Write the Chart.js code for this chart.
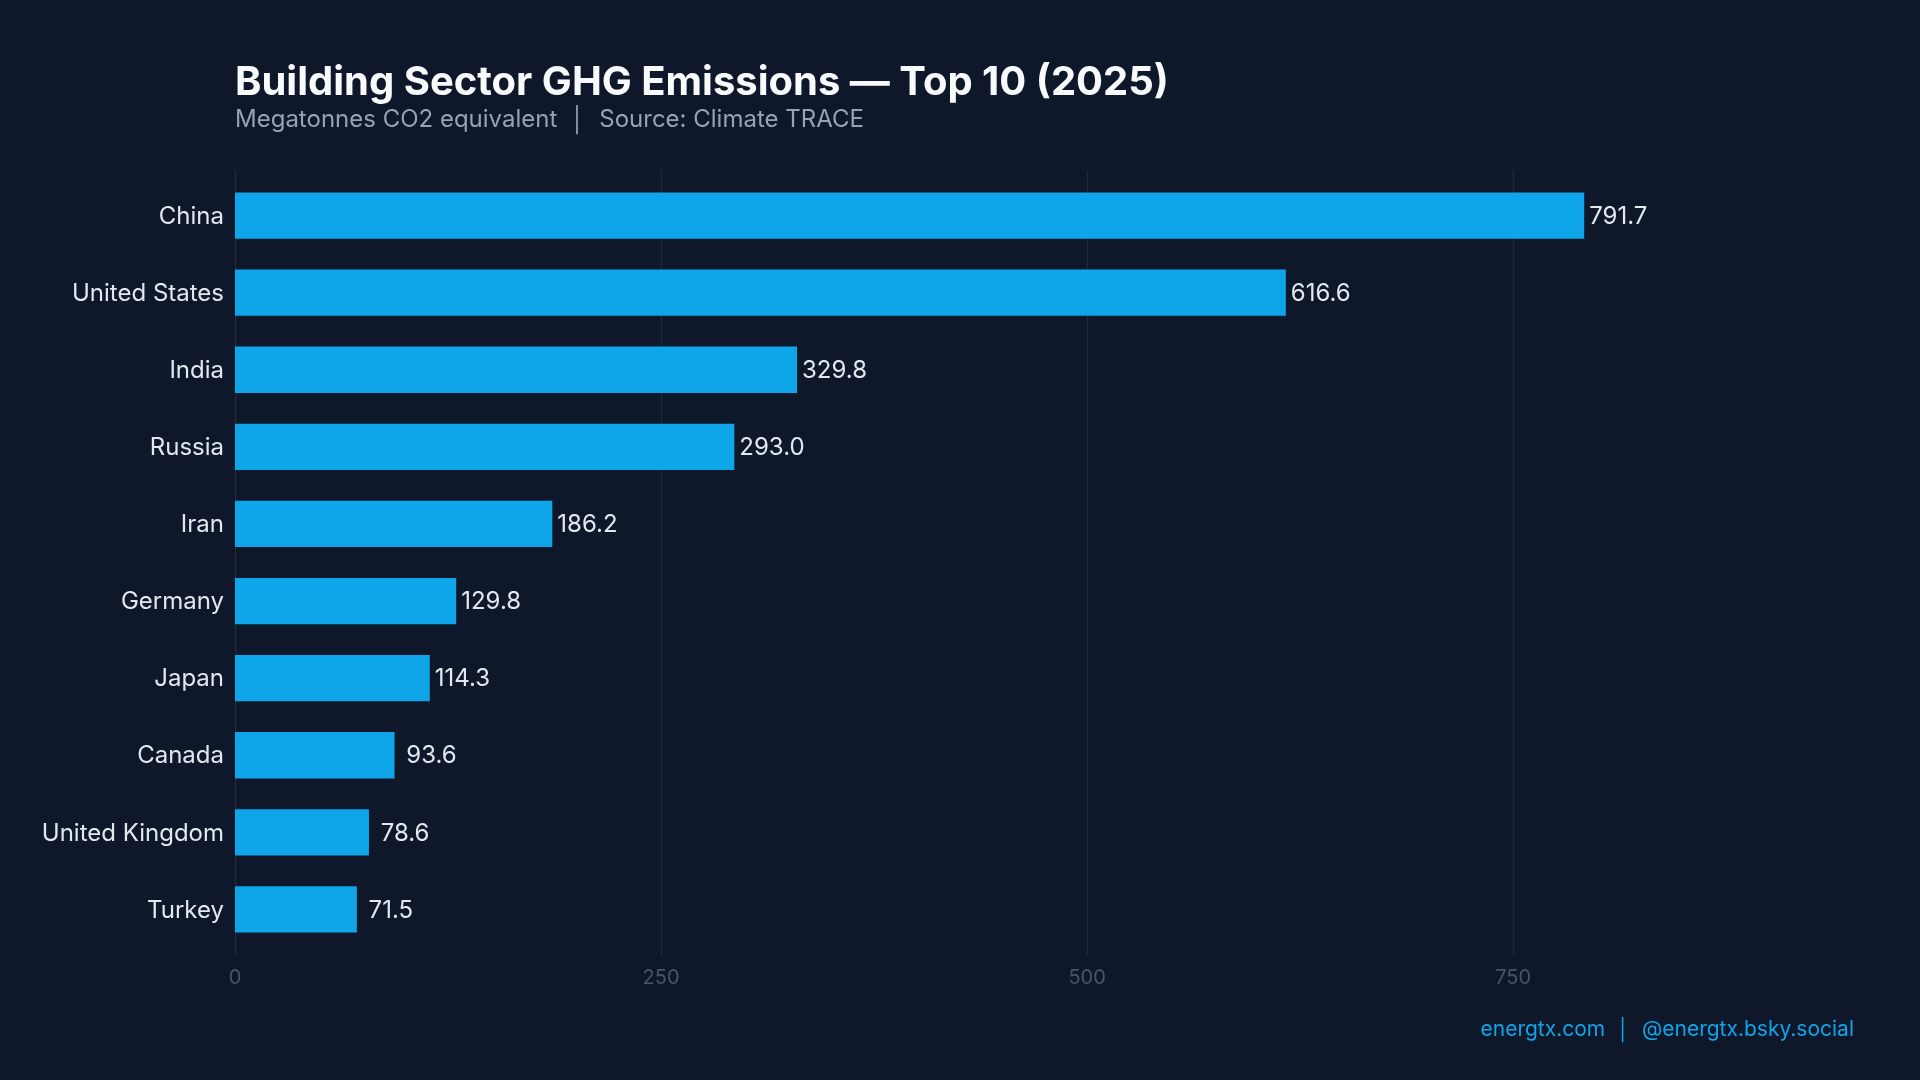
<!DOCTYPE html>
<html>
<head>
<meta charset="utf-8">
<title>Building Sector GHG Emissions</title>
<script src="https://cdn.jsdelivr.net/npm/chart.js@4.4.1/dist/chart.umd.min.js"></script>
<style>
    html, body { margin: 0; padding: 0; background: #0f172a; }
    #wrap { width: 1920px; height: 1080px; }
</style>
</head>
<body>
<div id="wrap"><canvas id="ghgChart" width="1920" height="1080"></canvas></div>
<script>
const countries = ['China', 'United States', 'India', 'Russia', 'Iran', 'Germany', 'Japan', 'Canada', 'United Kingdom', 'Turkey'];
const emissions = [791.7, 616.6, 329.8, 293.0, 186.2, 129.8, 114.3, 93.6, 78.6, 71.5];
const xTickValues = [0, 250, 500, 750];
const titleText = 'Building Sector GHG Emissions — Top 10 (2025)';
const subtitleText = 'Megatonnes CO2 equivalent  │  Source: Climate TRACE';
const footerText = 'energtx.com  │  @energtx.bsky.social';

document.addEventListener('DOMContentLoaded', function () {
    const fontFamily = 'Inter, "Noto Sans", sans-serif';
    Chart.defaults.font.family = fontFamily;

    const ctx = document.getElementById('ghgChart').getContext('2d');

    // vertical grid lines, a bit taller than the bar band
    const gridPlugin = {
        id: 'gridLines',
        beforeDatasetsDraw(chart) {
            const { ctx, chartArea, scales } = chart;
            ctx.save();
            ctx.strokeStyle = '#1e293b';
            ctx.lineWidth = 1.5;
            scales.x.ticks.forEach(t => {
                const x = Math.round(scales.x.getPixelForValue(t.value)) + 0.5;
                ctx.beginPath();
                ctx.moveTo(x, chartArea.top - 7);
                ctx.lineTo(x, chartArea.bottom + 7);
                ctx.stroke();
            });
            ctx.restore();
        }
    };

    const valueLabels = {
        id: 'valueLabels',
        afterDatasetsDraw(chart) {
            const ctx = chart.ctx;
            const meta = chart.getDatasetMeta(0);
            ctx.save();
            ctx.font = '24px ' + fontFamily;
            ctx.fillStyle = '#e2e8f0';
            ctx.textAlign = 'left';
            ctx.textBaseline = 'middle';
            meta.data.forEach((bar, i) => {
                const txt = emissions[i].toFixed(1).padStart(5);
                ctx.fillText(txt, bar.x + 5, bar.y + 1);
            });
            ctx.restore();
        }
    };

    const headerFooter = {
        id: 'headerFooter',
        afterDraw(chart) {
            const { ctx, chartArea } = chart;
            ctx.save();
            ctx.textBaseline = 'alphabetic';
            ctx.textAlign = 'left';
            ctx.fillStyle = '#f8fafc';
            ctx.font = 'bold 40px ' + fontFamily;
            ctx.fillText(titleText, chartArea.left, 95);
            ctx.fillStyle = '#94a3b8';
            ctx.font = '24px ' + fontFamily;
            ctx.fillText(subtitleText, chartArea.left, 127);
            ctx.textAlign = 'right';
            ctx.fillStyle = '#0ea5e9';
            ctx.font = '21px ' + fontFamily;
            ctx.fillText(footerText, chartArea.right, 1036);
            ctx.restore();
        }
    };

    new Chart(ctx, {
        type: 'bar',
        data: {
            labels: countries,
            datasets: [{
                label: 'Emissions (Mt CO2e)',
                data: emissions,
                backgroundColor: '#0ea5e9',
                borderWidth: 0,
                barPercentage: 0.6,
                categoryPercentage: 1
            }]
        },
        options: {
            indexAxis: 'y',
            responsive: false,
            animation: false,
            layout: {
                padding: { top: 177, right: 66, bottom: 72, left: 0 }
            },
            scales: {
                x: {
                    type: 'linear',
                    min: 0,
                    max: 950,
                    grid: { display: false },
                    border: { display: false },
                    ticks: {
                        stepSize: 250,
                        color: '#475569',
                        font: { size: 20 },
                        padding: 10
                    },
                    afterBuildTicks: s => {
                        s.ticks = xTickValues.map(v => ({ value: v }));
                    },
                    afterFit: s => { s.height = 60; }
                },
                y: {
                    grid: { display: false },
                    border: { display: false },
                    ticks: {
                        color: '#e2e8f0',
                        font: { size: 24 },
                        padding: 3,
                        labelOffset: 1
                    },
                    afterFit: s => { s.width = 235; }
                }
            },
            plugins: {
                legend: { display: false },
                tooltip: { enabled: false }
            }
        },
        plugins: [gridPlugin, valueLabels, headerFooter]
    });
});
</script>
</body>
</html>
